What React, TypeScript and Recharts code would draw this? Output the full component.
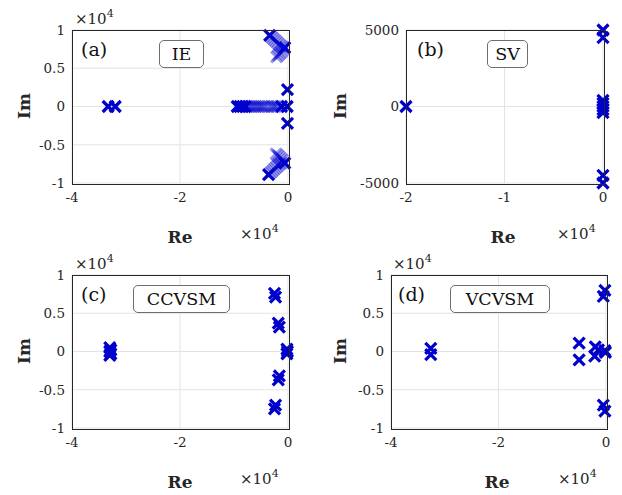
import React from 'react';
import { ScatterChart, Scatter, XAxis, YAxis, CartesianGrid } from 'recharts';

const FONT = '"DejaVu Serif", serif';
const BLUE = '#0000cd';

// (a) IE – eigenvalues, solid markers and faded trajectory markers
const ieSolid = [
  { re: -33300, im: 0 }, { re: -32000, im: 0 },
  { re: -3400, im: 9300 }, { re: -600, im: 7700 },
  { re: -100, im: 2200 }, { re: -100, im: -2200 },
  { re: -1200, im: 0 }, { re: -150, im: 0 },
  { re: -3600, im: -8900 }, { re: -600, im: -7400 },
  { re: -9400, im: 0 }, { re: -8900, im: 0 }, { re: -8400, im: 0 }, { re: -7900, im: 0 },
];
const ieTrail = [
  { re: -3100, im: 9100 }, { re: -2800, im: 8900 }, { re: -2500, im: 8700 }, { re: -2200, im: 8500 },
  { re: -1900, im: 8300 }, { re: -1600, im: 8100 }, { re: -1300, im: 7900 }, { re: -1000, im: 7800 },
  { re: -900, im: 7400 }, { re: -1200, im: 7100 }, { re: -1500, im: 6900 }, { re: -1800, im: 6700 },
  { re: -2100, im: 6500 },
  { re: -3300, im: -8700 }, { re: -3000, im: -8500 }, { re: -2700, im: -8300 }, { re: -2400, im: -8100 },
  { re: -2100, im: -7900 }, { re: -1800, im: -7700 }, { re: -1500, im: -7500 }, { re: -1200, im: -7400 },
  { re: -1000, im: -7000 }, { re: -1300, im: -6800 }, { re: -1600, im: -6600 }, { re: -1900, im: -6400 },
  { re: -2200, im: -6200 },
  { re: -7500, im: 0 }, { re: -7100, im: 0 }, { re: -6700, im: 0 }, { re: -6300, im: 0 },
  { re: -5900, im: 0 }, { re: -5500, im: 0 }, { re: -5100, im: 0 }, { re: -4700, im: 0 },
  { re: -4300, im: 0 }, { re: -3700, im: 0 }, { re: -3100, im: 0 }, { re: -2700, im: 0 },
  { re: -2300, im: 0 }, { re: -1900, im: 0 },
];

// (b) SV
const svPoles = [
  { re: -20000, im: 0 },
  { re: 0, im: 5000 }, { re: 0, im: 4500 },
  { re: 0, im: 400 }, { re: 0, im: 200 }, { re: 0, im: 0 }, { re: 0, im: -200 }, { re: 0, im: -400 },
  { re: 0, im: -4500 }, { re: 0, im: -5000 },
];

// (c) CCVSM
const ccvsmPoles = [
  { re: -33000, im: 500 }, { re: -33000, im: 0 }, { re: -33000, im: -500 },
  { re: -32800, im: 200 }, { re: -32800, im: -300 },
  { re: -2500, im: 7600 }, { re: -2300, im: 7100 },
  { re: -1800, im: 3700 }, { re: -1600, im: 3200 },
  { re: -200, im: 300 }, { re: -100, im: 0 }, { re: -200, im: -300 },
  { re: -1600, im: -3200 }, { re: -1800, im: -3700 },
  { re: -2300, im: -7000 }, { re: -2500, im: -7500 },
];

// (d) VCVSM
const vcvsmPoles = [
  { re: -32600, im: 400 }, { re: -32600, im: -400 },
  { re: -200, im: 8000 }, { re: -500, im: 7200 },
  { re: -5000, im: 1100 }, { re: -5000, im: -1100 },
  { re: -2000, im: 600 }, { re: -2100, im: -600 }, { re: -1400, im: 200 },
  { re: -200, im: 100 }, { re: -100, im: -100 },
  { re: -500, im: -7000 }, { re: -200, im: -7800 },
];

const xTicksWide = [-40000, -20000, 0];
const xTicksNarrow = [-20000, -10000, 0];
const yTicksUnit = [-10000, -5000, 0, 5000, 10000];
const yTicksSV = [-5000, 0, 5000];

const cross = (opacity: number) => (p: any) => {
  const { cx, cy } = p;
  if (cx == null || cy == null) return <g />;
  const s = 5.5;
  return (
    <path
      d={`M${cx - s},${cy - s}L${cx + s},${cy + s}M${cx - s},${cy + s}L${cx + s},${cy - s}`}
      stroke={BLUE}
      strokeWidth={3.2}
      strokeOpacity={opacity}
      fill="none"
    />
  );
};

const tickStyle = { fill: '#262626', fontSize: 13.5, fontFamily: FONT };
const abs = (s: React.CSSProperties): React.CSSProperties => ({ position: 'absolute', fontFamily: FONT, color: '#262626', ...s });

const Exp = ({ left, top }: { left: number; top: number }) => (
  <div style={abs({ left, top, fontSize: 15, lineHeight: '20px', whiteSpace: 'nowrap' })}>
    ×10<span style={{ fontSize: 11, position: 'relative', top: -7 }}>4</span>
  </div>
);

interface PanelProps {
  ox: number; oy: number; w: number; h: number;
  box: { l: number; r: number; t: number; b: number };
  xDomain: [number, number]; xTicks: number[];
  yDomain: [number, number]; yTicks: number[];
  yScaled: boolean;
  series: { data: { re: number; im: number }[]; opacity: number }[];
}

const Panel = ({ ox, oy, w, h, box, xDomain, xTicks, yDomain, yTicks, yScaled, series }: PanelProps) => {
  const xh = 30;
  return (
    <>
      <div style={{ position: 'absolute', left: ox, top: oy }}>
        <ScatterChart
          width={w}
          height={h}
          margin={{ top: box.t - oy, right: ox + w - box.r, left: 0, bottom: oy + h - box.b - xh }}
        >
          <CartesianGrid stroke="#e3e3e3" strokeWidth={1} />
          <XAxis
            type="number"
            dataKey="re"
            domain={xDomain}
            ticks={xTicks}
            height={xh}
            axisLine={false}
            tickLine={false}
            tickSize={6}
            tickMargin={3}
            tick={tickStyle}
            tickFormatter={(v: number) => `${v / 10000}`}
          />
          <YAxis
            type="number"
            dataKey="im"
            domain={yDomain}
            ticks={yTicks}
            width={box.l - ox}
            axisLine={false}
            tickLine={false}
            tickSize={4}
            tickMargin={3}
            tick={tickStyle}
            tickFormatter={(v: number) => (yScaled ? `${v / 10000}` : `${v}`)}
          />
          {series.map((s, i) => (
            <Scatter key={i} data={s.data} shape={cross(s.opacity)} isAnimationActive={false} />
          ))}
        </ScatterChart>
      </div>
      {/* axes frame */}
      <div
        style={{
          position: 'absolute',
          left: box.l - 0.5,
          top: box.t - 0.5,
          width: box.r - box.l,
          height: box.b - box.t,
          border: '1.2px solid #262626',
          pointerEvents: 'none',
        }}
      />
    </>
  );
};

const AxisName = ({ text, cx, cy, rotate }: { text: string; cx: number; cy: number; rotate?: boolean }) => (
  <div
    style={abs({
      left: cx - 30,
      top: cy - 12,
      width: 60,
      height: 24,
      lineHeight: '24px',
      textAlign: 'center',
      fontSize: 17,
      fontWeight: 'bold',
      transform: rotate ? 'rotate(-90deg)' : undefined,
    })}
  >
    {text}
  </div>
);

const Tag = ({ text, left, top, width }: { text: string; left: number; top: number; width: number }) => (
  <div
    style={abs({
      left,
      top,
      width,
      height: 26,
      lineHeight: '26px',
      textAlign: 'center',
      fontSize: 17.5,
      color: '#111',
      background: '#fff',
      border: '1px solid #6e6e6e',
      borderRadius: 5,
    })}
  >
    {text}
  </div>
);

const Letter = ({ text, left, top }: { text: string; left: number; top: number }) => (
  <div style={abs({ left, top, fontSize: 19, color: '#111', lineHeight: '22px' })}>{text}</div>
);

export default function App() {
  return (
    <div style={{ position: 'absolute', left: 0, top: 0, width: 622, height: 495, background: '#fff', overflow: 'hidden' }}>
      <Panel
        ox={0} oy={0} w={310} h={250}
        box={{ l: 72, r: 288, t: 30, b: 183 }}
        xDomain={[-40000, 0]} xTicks={xTicksWide}
        yDomain={[-10000, 10000]} yTicks={yTicksUnit} yScaled
        series={[{ data: ieTrail, opacity: 0.4 }, { data: ieSolid, opacity: 1 }]}
      />
      <Panel
        ox={310} oy={0} w={312} h={250}
        box={{ l: 406, r: 603, t: 30, b: 183 }}
        xDomain={[-20000, 0]} xTicks={xTicksNarrow}
        yDomain={[-5000, 5000]} yTicks={yTicksSV} yScaled={false}
        series={[{ data: svPoles, opacity: 1 }]}
      />
      <Panel
        ox={0} oy={245} w={310} h={250}
        box={{ l: 72, r: 288, t: 275, b: 428 }}
        xDomain={[-40000, 0]} xTicks={xTicksWide}
        yDomain={[-10000, 10000]} yTicks={yTicksUnit} yScaled
        series={[{ data: ccvsmPoles, opacity: 1 }]}
      />
      <Panel
        ox={310} oy={245} w={312} h={250}
        box={{ l: 391, r: 606, t: 275, b: 428 }}
        xDomain={[-40000, 0]} xTicks={xTicksWide}
        yDomain={[-10000, 10000]} yTicks={yTicksUnit} yScaled
        series={[{ data: vcvsmPoles, opacity: 1 }]}
      />

      {/* axis names */}
      <AxisName text="Im" cx={24} cy={106} rotate />
      <AxisName text="Im" cx={340} cy={106} rotate />
      <AxisName text="Im" cx={24} cy={351} rotate />
      <AxisName text="Im" cx={340} cy={351} rotate />
      <AxisName text="Re" cx={180} cy={237} />
      <AxisName text="Re" cx={503} cy={237} />
      <AxisName text="Re" cx={180} cy={482} />
      <AxisName text="Re" cx={497} cy={482} />

      {/* exponent labels */}
      <Exp left={75} top={9} />
      <Exp left={240} top={224} />
      <Exp left={557} top={224} />
      <Exp left={75} top={254} />
      <Exp left={240} top={469} />
      <Exp left={393} top={254} />
      <Exp left={558} top={469} />

      {/* panel letters and tags */}
      <Letter text="(a)" left={81} top={38} />
      <Letter text="(b)" left={417} top={38} />
      <Letter text="(c)" left={81} top={283} />
      <Letter text="(d)" left={398} top={283} />
      <Tag text="IE" left={159} top={40} width={43} />
      <Tag text="SV" left={487} top={40} width={39} />
      <Tag text="CCVSM" left={133} top={285} width={95} />
      <Tag text="VCVSM" left={450} top={285} width={98} />
    </div>
  );
}
